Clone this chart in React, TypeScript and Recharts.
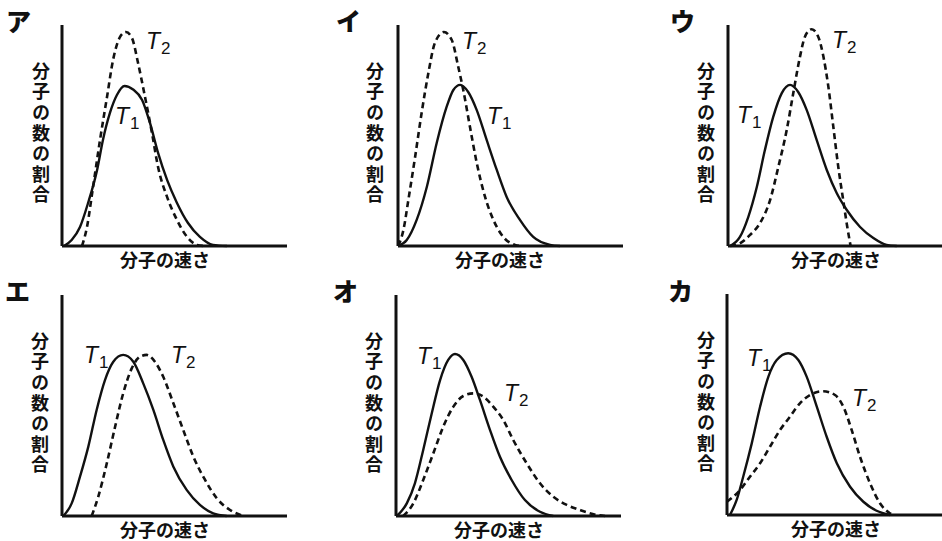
import { LineChart, Line, XAxis, YAxis, ReferenceLine } from 'recharts'

type Pt = [number, number]

const panelNames = ['ア', 'イ', 'ウ', 'エ', 'オ', 'カ']
const yTitle = '分子の数の割合'
const xTitle = '分子の速さ'

// speed (0-100) vs fraction (0-100)
const aT1: Pt[] = [[0.9, 0], [4.3, 2.7], [8, 8.6], [11.6, 19.5], [15.6, 34.4], [18.2, 48], [21.3, 60.2], [24.4, 68.3], [27.8, 72.4], [31.6, 70.8], [35.6, 66.1], [39.1, 55.7], [42.7, 42.1], [46.7, 29.9], [51.1, 19.5], [56, 10.4], [61.3, 4.1], [67.1, 0.5], [73.3, 0]]
const aT2: Pt[] = [[8.9, 0], [11.1, 8.6], [13.8, 26.7], [16.9, 48], [20, 67.4], [22.7, 84.2], [25.8, 94.6], [28.4, 96.8], [31.1, 94.1], [33.8, 82.8], [36.9, 67.4], [40, 51.1], [42.7, 35.7], [46.7, 22.2], [51.1, 11.8], [55.6, 4.1], [60, 0.5], [63.6, 0]]

const iT1: Pt[] = [[0.1, 0], [3.9, 2.7], [8.3, 11.8], [12.8, 26.7], [17.2, 46.6], [21.6, 62.9], [24.6, 70.6], [27.6, 72.9], [31.2, 69.7], [35, 61.5], [39.4, 48], [43.9, 34.4], [48.3, 22.2], [54.2, 11.8], [60.1, 4.1], [67.6, 0.5], [72, 0]]
const iT2: Pt[] = [[0.1, 0], [2.4, 7.2], [4.6, 20.8], [7.6, 40.3], [10.5, 60.2], [13.5, 78.3], [16.4, 91.9], [20.4, 96.8], [23.9, 93.2], [26.8, 81], [29, 70.6], [32, 53.8], [35, 37.6], [38.7, 22.2], [42.4, 11.8], [46.8, 4.1], [52, 0.5], [55, 0]]

const uT1: Pt[] = [[0.9, 0], [5.3, 4.1], [9, 13.1], [12.8, 26.7], [16.4, 43.4], [20.1, 58.4], [23.9, 69.2], [27.6, 72.9], [31.2, 69.7], [35, 61.5], [39.4, 48], [43.9, 34.4], [48.3, 24], [52.8, 16.3], [58.7, 8.6], [64.6, 3.6], [70.5, 0.5], [75, 0]]
const uT2: Pt[] = [[1, 0], [5.3, 1.2], [9.8, 5], [14.2, 10.3], [18.7, 20.8], [22.4, 35.9], [26.1, 52.5], [29, 69.1], [32, 85.7], [34.2, 94.7], [37.2, 98.1], [40.1, 94.7], [42.4, 85.7], [44.6, 72.1], [46.8, 54], [49, 35.9], [51.2, 20.8], [53, 8.7], [54.5, 0]]

const eT1: Pt[] = [[0.6, 0], [4.3, 5.7], [8, 17.8], [11.7, 31.4], [15.4, 48], [19.1, 61.5], [22.8, 69.8], [27.2, 72.9], [31.7, 69.8], [36.1, 60], [40.6, 48], [45, 34.4], [49.5, 22.3], [55.4, 11.8], [61.3, 5], [67.2, 1.2], [73.2, 0]]
const eT2: Pt[] = [[13.2, 0], [16.1, 8.7], [19.9, 23.8], [23.6, 40.4], [27.2, 55.5], [31, 66.8], [34.7, 72.1], [37.6, 72.9], [41.3, 69.8], [45, 63], [49.5, 51], [53.9, 38.9], [58.4, 26.8], [63.6, 16.3], [68.8, 8], [74.7, 2.7], [80.6, 0]]

const oT1: Pt[] = [[0.3, 0], [4.8, 5.7], [8.4, 14.8], [12.1, 29.9], [15.9, 46.5], [19.6, 61.5], [23.2, 70.6], [26.2, 73.3], [29.9, 70.6], [33.6, 63], [37.3, 52.5], [41.8, 38.9], [46.2, 26.8], [51.4, 16.3], [57.3, 7.2], [64, 1.9], [69.9, 0]]
const oT2: Pt[] = [[3.2, 0], [7.7, 5.7], [12.1, 16.3], [16.6, 28.4], [21, 40.4], [25.5, 49.5], [29.9, 54.3], [34.4, 55.5], [38.8, 54], [43.2, 49.5], [47.7, 43.4], [52.1, 34.4], [58.1, 23.8], [64, 14.8], [69.9, 8.7], [75.9, 5], [81.8, 2.7], [89.2, 0.5], [92.9, 0]]

const kT1: Pt[] = [[1.3, 0], [4.3, 6.8], [7.2, 17.3], [11, 32.4], [14.7, 49], [18.4, 62.6], [22.1, 70.1], [27.2, 73.2], [31.7, 70.1], [35.4, 62.6], [39.9, 49], [44.3, 35.4], [48.8, 23.4], [54.7, 12.8], [60.6, 6], [66.5, 1.9], [72.4, 0]]
const kT2: Pt[] = [[0, 6], [5.8, 11.3], [10.2, 17.3], [14.7, 23.4], [19.1, 30.9], [23.6, 38.5], [28, 44.5], [32.4, 50.5], [36.9, 54.3], [42.7, 56], [48, 54.3], [51.7, 49], [55.4, 38.5], [59.1, 26.4], [63.6, 14.3], [68, 5.3], [72.4, 0.8], [73.8, 0]]

const series: [Pt[], Pt[]][] = [[aT1, aT2], [iT1, iT2], [uT1, uT2], [eT1, eT2], [oT1, oT2], [kT1, kT2]]

const toRows = (pts: Pt[]) => pts.map(([x, y]) => ({ x, y }))

// plot origin, curve label spots and title spots per panel (pixels)
const layout = [
  { ox: 62, top: 25, name: [6, 8], y: 41, x: 165, t1: [115, 105], t2: [146, 30] },
  { ox: 398, top: 25, name: [336, 8], y: 375, x: 500, t1: [487, 105], t2: [462, 30] },
  { ox: 728, top: 25, name: [670, 8], y: 706, x: 836, t1: [737, 104], t2: [832, 29] },
  { ox: 62, top: 295, name: [5, 278], y: 40, x: 165, t1: [84, 344], t2: [171, 344] },
  { ox: 396, top: 295, name: [333, 278], y: 374, x: 499, t1: [417, 345], t2: [504, 382] },
  { ox: 727, top: 294, name: [668, 278], y: 706, x: 836, t1: [747, 347], t2: [852, 387] },
]

const PLOT_W = 225
const PLOT_H = 221
const PAD = 10
const ink = '#111'
const jp = '"Noto Sans CJK JP", "Noto Sans", sans-serif'

function TLabel({ at, sub }: { at: number[]; sub: string }) {
  return (
    <div
      style={{
        position: 'absolute',
        left: at[0],
        top: at[1],
        fontFamily: '"Liberation Sans", Arial, sans-serif',
        fontSize: 23,
        lineHeight: '23px',
        color: ink,
        whiteSpace: 'nowrap',
      }}
    >
      <span style={{ fontStyle: 'italic' }}>T</span>
      <span style={{ fontSize: 17, position: 'relative', top: 5, marginLeft: 1 }}>{sub}</span>
    </div>
  )
}

function Panel({ idx }: { idx: number }) {
  const l = layout[idx]
  const [t1, t2] = series[idx]
  return (
    <>
      <div
        style={{
          position: 'absolute',
          left: l.name[0],
          top: l.name[1],
          fontFamily: jp,
          fontWeight: 900,
          fontSize: 25,
          lineHeight: '25px',
          color: ink,
        }}
      >
        {panelNames[idx]}
      </div>
      {/* vertical axis title */}
      <div
        style={{
          position: 'absolute',
          left: l.y - 11,
          top: l.top + 37,
          width: 22,
          writingMode: 'vertical-rl',
          letterSpacing: '2.6px',
          fontFamily: jp,
          fontWeight: 700,
          fontSize: 18,
          lineHeight: '22px',
          color: ink,
        }}
      >
        {yTitle}
      </div>
      <div
        style={{
          position: 'absolute',
          left: l.x - 60,
          top: l.top + 225,
          width: 120,
          textAlign: 'center',
          fontFamily: jp,
          fontWeight: 700,
          fontSize: 18,
          lineHeight: '18px',
          color: ink,
        }}
      >
        {xTitle}
      </div>
      <div style={{ position: 'absolute', left: l.ox - PAD, top: l.top - PAD }}>
        <LineChart
          width={PLOT_W + PAD * 2}
          height={PLOT_H + PAD * 2}
          margin={{ top: PAD, right: PAD, bottom: PAD, left: PAD }}
        >
          <XAxis type="number" dataKey="x" domain={[0, 100]} hide />
          <YAxis type="number" dataKey="y" domain={[0, 100]} hide />
          <Line
            data={toRows(t1)}
            dataKey="y"
            type="monotone"
            stroke={ink}
            strokeWidth={2.4}
            dot={false}
            isAnimationActive={false}
          />
          <Line
            data={toRows(t2)}
            dataKey="y"
            type="monotone"
            stroke={ink}
            strokeWidth={2.6}
            strokeDasharray="6 4"
            dot={false}
            isAnimationActive={false}
          />
          <ReferenceLine x={0} stroke={ink} strokeWidth={3} />
          <ReferenceLine y={0} stroke={ink} strokeWidth={3} />
        </LineChart>
      </div>
      <TLabel at={l.t1} sub="1" />
      <TLabel at={l.t2} sub="2" />
    </>
  )
}

export default function App() {
  return (
    <div
      style={{
        position: 'absolute',
        left: 0,
        top: 0,
        width: 942,
        height: 541,
        overflow: 'hidden',
        background: '#fff',
      }}
    >
      {layout.map((_, i) => (
        <Panel key={i} idx={i} />
      ))}
    </div>
  )
}
